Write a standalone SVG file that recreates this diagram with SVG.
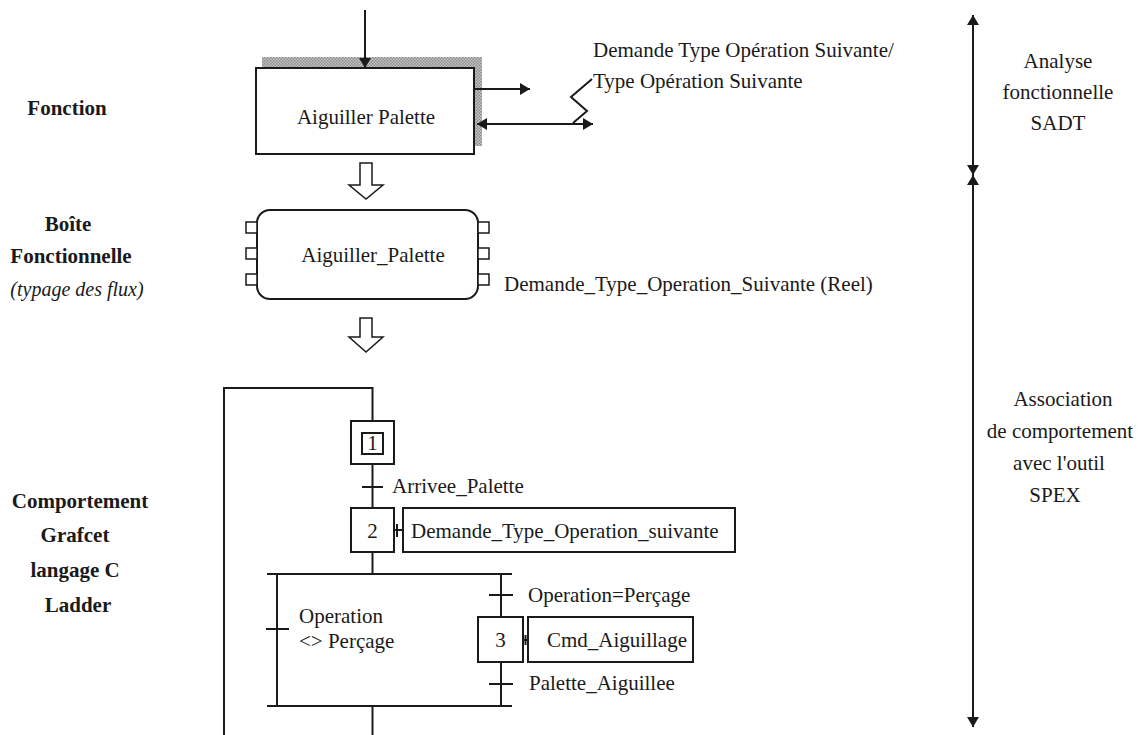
<svg xmlns="http://www.w3.org/2000/svg" width="1146" height="735" viewBox="0 0 1146 735">
<style>
text{font-family:"Liberation Serif","Times New Roman",serif;font-size:21px;fill:#1a1a1a}
.b{font-weight:bold}
.i{font-style:italic;font-size:20px}
.m{text-anchor:middle}
.ln{stroke:#1a1a1a;stroke-width:2;fill:none}
.bx{stroke:#1a1a1a;stroke-width:2;fill:#fff}
.ha{stroke:#1a1a1a;stroke-width:1.5;fill:#fff}
.ar{marker-end:url(#ah)}
</style>
<defs>
<marker id="ah" viewBox="0 0 10 12" refX="10" refY="6" markerWidth="10" markerHeight="12" markerUnits="userSpaceOnUse" orient="auto-start-reverse">
<path d="M0,0 L10,6 L0,12 z" fill="#1a1a1a"/>
</marker>
<pattern id="hatch" width="3" height="3" patternUnits="userSpaceOnUse">
<rect width="3" height="3" fill="#c8c8c8"/>
<rect width="1.5" height="1.5" fill="#8a8a8a"/>
<rect x="1.5" y="1.5" width="1.5" height="1.5" fill="#8a8a8a"/>
</pattern>
</defs>
<rect width="1146" height="735" fill="#fff"/>

<g id="labels-left">
<text class="b m" x="67" y="115">Fonction</text>
<text class="b m" x="68" y="231">Boîte</text>
<text class="b m" x="71" y="263">Fonctionnelle</text>
<text class="i m" x="77" y="296">(typage des flux)</text>
<text class="b m" x="80" y="508">Comportement</text>
<text class="b m" x="75" y="542">Grafcet</text>
<text class="b m" x="75" y="577">langage C</text>
<text class="b m" x="78" y="612">Ladder</text>
</g>

<g id="labels-right">
<text class="m" x="1058" y="68">Analyse</text>
<text class="m" x="1058" y="99">fonctionnelle</text>
<text class="m" x="1058" y="130">SADT</text>
<text class="m" x="1063" y="406">Association</text>
<text class="m" x="1060" y="438">de comportement</text>
<text class="m" x="1059" y="470">avec l'outil</text>
<text class="m" x="1055" y="502">SPEX</text>
</g>

<g id="sadt-function">
<rect x="262" y="57" width="220" height="89" fill="url(#hatch)"/>
<rect class="bx" x="256" y="68" width="218" height="86"/>
<text class="m" x="366" y="124">Aiguiller Palette</text>
</g>

<g id="flux-label">
<text x="593" y="57">Demande Type Opération Suivante/</text>
<text x="593" y="88">Type Opération Suivante</text>
</g>

<g id="functional-box">
<rect class="bx" x="257" y="210" width="221" height="89" rx="13"/>
<rect class="ha" x="246" y="222" width="11" height="11"/>
<rect class="ha" x="246" y="248" width="11" height="11"/>
<rect class="ha" x="246" y="274" width="11" height="11"/>
<rect class="ha" x="478" y="222" width="11" height="11"/>
<rect class="ha" x="478" y="248" width="11" height="11"/>
<rect class="ha" x="478" y="274" width="11" height="11"/>
<text class="m" x="373" y="262">Aiguiller_Palette</text>
<text x="504" y="291">Demande_Type_Operation_Suivante (Reel)</text>
</g>

<g id="step1">
<rect class="bx" x="351" y="421" width="43" height="43"/>
<rect class="bx" x="362" y="433" width="21" height="21"/>
<text class="m" x="372.5" y="450">1</text>
</g>
<g id="step2">
<rect class="bx" x="351" y="508" width="43" height="44"/>
<text class="m" x="372.5" y="538">2</text>
</g>
<g id="action2">
<rect class="bx" x="403" y="508" width="332" height="44"/>
<text x="411" y="538">Demande_Type_Operation_suivante</text>
</g>
<g id="step3">
<rect class="bx" x="478" y="617" width="45" height="45"/>
<text class="m" x="500.5" y="647">3</text>
</g>
<g id="action3">
<rect class="bx" x="528" y="617" width="165" height="45"/>
<text x="547" y="647">Cmd_Aiguillage</text>
</g>
<g id="transition-labels">
<text x="392" y="493">Arrivee_Palette</text>
<text x="528" y="602">Operation=Perçage</text>
<text x="529" y="690">Palette_Aiguillee</text>
<text x="299" y="623">Operation</text>
<text x="299" y="648">&lt;&gt; Perçage</text>
</g>

<g id="connectors">
<line class="ln ar" x1="365" y1="10" x2="365" y2="68"/>
<line class="ln ar" x1="474" y1="89" x2="530" y2="89"/>
<line class="ln ar" x1="477" y1="124" x2="593" y2="124" style="marker-start:url(#ah)"/>
<polyline class="ln" stroke-width="1.5" points="573,123 587,111 571,97 592,79"/>
<path class="ha" d="M360,163 L372,163 L372,185 L383,185 L366,199 L349,185 L360,185 Z"/>
<path class="ha" d="M360,318 L372,318 L372,337 L383,337 L366,352 L349,337 L360,337 Z"/>
<line class="ln" x1="973" y1="15" x2="973" y2="175" style="marker-start:url(#ah);marker-end:url(#ah)"/>
<line class="ln" x1="973" y1="175" x2="973" y2="727" style="marker-start:url(#ah);marker-end:url(#ah)"/>
<polyline class="ln" points="224,735 224,388 372.5,388 372.5,421"/>
<line class="ln" x1="372.5" y1="464" x2="372.5" y2="508"/>
<line class="ln" x1="362" y1="487" x2="383" y2="487"/>
<line class="ln" x1="394" y1="530" x2="403" y2="530"/>
<line class="ln" x1="397" y1="524" x2="397" y2="537"/>
<line class="ln" x1="372.5" y1="552" x2="372.5" y2="574"/>
<line class="ln" x1="267" y1="574" x2="512" y2="574"/>
<line class="ln" x1="277" y1="574" x2="277" y2="706"/>
<line class="ln" x1="266" y1="629" x2="289" y2="629"/>
<line class="ln" x1="501" y1="574" x2="501" y2="617"/>
<line class="ln" x1="489" y1="595" x2="513" y2="595"/>
<line class="ln" x1="501" y1="662" x2="501" y2="706"/>
<line class="ln" x1="489" y1="684" x2="513" y2="684"/>
<line class="ln" x1="523" y1="640" x2="528" y2="640"/>
<line class="ln" x1="525.5" y1="635" x2="525.5" y2="645"/>
<line class="ln" x1="267" y1="706" x2="512" y2="706"/>
<line class="ln" x1="372.5" y1="706" x2="372.5" y2="735"/>
</g>
</svg>
